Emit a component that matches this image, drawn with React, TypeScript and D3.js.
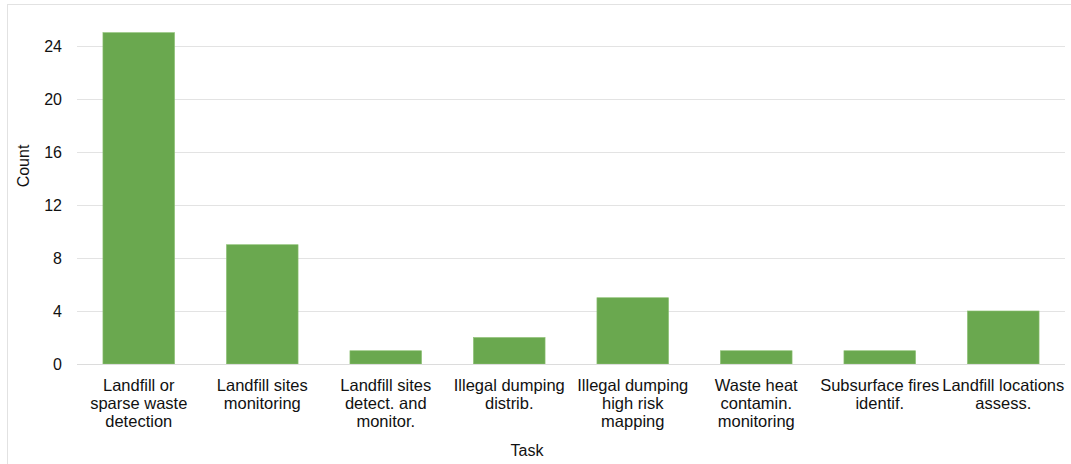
import React, { useEffect, useRef } from "react";
import * as d3 from "d3";

const categories = [
  ["Landfill or", "sparse waste", "detection"],
  ["Landfill sites", "monitoring"],
  ["Landfill sites", "detect. and", "monitor."],
  ["Illegal dumping", "distrib."],
  ["Illegal dumping", "high risk", "mapping"],
  ["Waste heat", "contamin.", "monitoring"],
  ["Subsurface fires", "identif."],
  ["Landfill locations", "assess."],
];
const counts = [25, 9, 1, 2, 5, 1, 1, 4];
const yTicks = [0, 4, 8, 12, 16, 20, 24];

const W = 1071;
const H = 464;
const FONT = "'Liberation Sans', Arial, sans-serif";

export default function App() {
  const svgRef = useRef<SVGSVGElement>(null);

  useEffect(() => {
    if (!svgRef.current) return;
    const svg = d3.select(svgRef.current);
    svg.selectAll("*").remove();

    const margin = { top: 30, right: 6, bottom: 100, left: 77 };
    const innerWidth = W - margin.left - margin.right;
    const innerHeight = H - margin.top - margin.bottom;

    // outer frame
    svg.append("rect")
      .attr("x", 7.5)
      .attr("y", 4.5)
      .attr("width", W + 10)
      .attr("height", H + 10)
      .attr("fill", "white")
      .attr("stroke", "#e2e2e2");

    const keys = categories.map((c) => c.join(" "));

    const x = d3.scaleBand()
      .domain(keys)
      .range([0, innerWidth])
      .paddingInner(0.42)
      .paddingOuter(0.21);

    const y = d3.scaleLinear()
      .domain([0, 25.2])
      .range([innerHeight, 0]);

    const g = svg.append("g")
      .attr("transform", `translate(${margin.left},${margin.top})`);

    // grid lines
    g.append("g")
      .selectAll("line")
      .data(yTicks.filter((t) => t > 0))
      .enter()
      .append("line")
      .attr("x1", 0)
      .attr("x2", innerWidth)
      .attr("y1", (d) => Math.round(y(d)) + 0.5)
      .attr("y2", (d) => Math.round(y(d)) + 0.5)
      .attr("stroke", "#e3e3e3");

    // y tick labels
    g.append("g")
      .selectAll("text")
      .data(yTicks)
      .enter()
      .append("text")
      .attr("x", -15)
      .attr("y", (d) => y(d))
      .attr("dy", "0.35em")
      .attr("text-anchor", "end")
      .attr("font-family", FONT)
      .attr("font-size", "16px")
      .attr("fill", "#111")
      .text((d) => d);

    // bars
    g.append("g")
      .selectAll("rect")
      .data(counts)
      .enter()
      .append("rect")
      .attr("x", (_, i) => x(keys[i]) || 0)
      .attr("width", x.bandwidth())
      .attr("y", (d) => y(d))
      .attr("height", (d) => innerHeight - y(d))
      .attr("fill", "#6aa84f")
      .attr("stroke", "#8cc072")
      .attr("stroke-width", 0.6);

    // baseline
    g.append("line")
      .attr("x1", 0)
      .attr("x2", innerWidth)
      .attr("y1", innerHeight + 0.5)
      .attr("y2", innerHeight + 0.5)
      .attr("stroke", "#dcdcdc")
      .attr("stroke-width", 1.2);

    // x labels
    const lbl = g.append("g")
      .selectAll("text")
      .data(categories)
      .enter()
      .append("text")
      .attr("text-anchor", "middle")
      .attr("font-family", FONT)
      .attr("font-size", "16.5px")
      .attr("fill", "#111")
      .attr("transform", (_, i) =>
        `translate(${(x(keys[i]) || 0) + x.bandwidth() / 2},${innerHeight + 27})`);
    lbl.selectAll("tspan")
      .data((d) => d)
      .enter()
      .append("tspan")
      .attr("x", 0)
      .attr("dy", (_, i) => (i === 0 ? 0 : 18))
      .text((d) => d);

    // axis titles
    svg.append("text")
      .attr("transform", "translate(29,166) rotate(-90)")
      .attr("text-anchor", "middle")
      .attr("font-family", FONT)
      .attr("font-size", "16px")
      .attr("fill", "#111")
      .text("Count");

    svg.append("text")
      .attr("x", 527)
      .attr("y", 456)
      .attr("text-anchor", "middle")
      .attr("font-family", FONT)
      .attr("font-size", "16px")
      .attr("fill", "#111")
      .text("Task");
  }, []);

  return (
    <div style={{ position: "absolute", left: 0, top: 0 }}>
      <svg ref={svgRef} width={W} height={H} style={{ display: "block" }} />
    </div>
  );
}
